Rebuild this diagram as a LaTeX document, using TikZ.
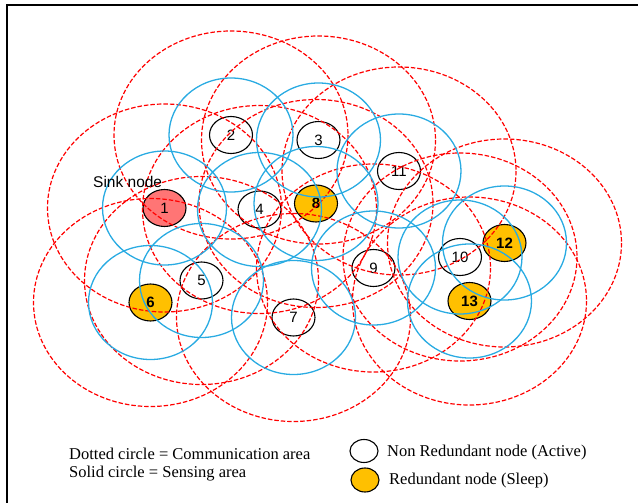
\documentclass[tikz,border=0pt]{standalone}
\usepackage{fontspec}
\setmainfont{Liberation Serif}
\newfontfamily\arialf{Liberation Sans}
\usetikzlibrary{shapes.geometric}
\definecolor{sensblue}{RGB}{41,171,226}
\definecolor{commred}{RGB}{255,0,0}
\definecolor{sinkred}{RGB}{255,117,117}
\definecolor{sleepy}{RGB}{255,192,0}
\begin{document}
\begin{tikzpicture}[x=1pt,y=-1pt,
  sensor/.style={ellipse, draw=black, line width=1.1pt, minimum width=43pt, minimum height=37pt, inner sep=0pt, font=\arialf\fontsize{15}{15}\selectfont},
  active/.style={sensor},
  sleep/.style={sensor, fill=sleepy, font=\arialf\bfseries\fontsize{15}{15}\selectfont},
  sink/.style={sensor, fill=sinkred},
  sens/.style={draw=sensblue, line width=1.3pt},
  comm/.style={draw=commred, line width=1.2pt, dash pattern=on 4.5pt off 2pt},
  legtext/.style={anchor=base west, inner sep=0pt, font=\fontsize{16.5}{18}\selectfont},
]
\useasboundingbox (0,0) rectangle (638,503);
\draw[line width=2pt] (638,5) -- (7,5) -- (7,503);
% sensor nodes
\node[sink]   (n1)  at (164.5,208) {1};
\node[active] (n2)  at (231,135) {2};
\node[active] (n3)  at (318.5,140) {3};
\node[active] (n4)  at (259.5,209.5) {4};
\node[active] (n5)  at (201.5,280.5) {5};
\node[sleep]  (n6)  at (150.5,302.5) {6};
\node[active] (n7)  at (293.5,317.5) {7};
\node[sleep]  (n8)  at (316,203.5) {8};
\node[active] (n9)  at (373.5,268) {9};
\node[active] (n10) at (460,257) {10};
\node[active] (n11) at (399,171) {11};
\node[sleep]  (n12) at (504.5,243) {12};
\node[sleep]  (n13) at (469.5,301) {13};
% communication and sensing areas
\foreach \n in {1,...,13}{
  \draw[comm] (n\n) ellipse [x radius=117, y radius=104];
}
\foreach \n in {1,...,13}{
  \draw[sens] (n\n) ellipse [x radius=62, y radius=57];
}
\node[anchor=base west, inner sep=0pt, font=\arialf\fontsize{15.5}{16}\selectfont] (sinklbl) at (93,187) {Sink node};
% legend
\node[legtext] (leg1) at (69,459) {Dotted circle = Communication area};
\node[legtext] (leg2) at (69,477) {Solid circle = Sensing area};
\node[active, minimum width=28pt, minimum height=23pt] (legA) at (364,451) {};
\node[sleep, minimum width=28pt, minimum height=24pt] (legS) at (365,480) {};
\node[legtext] (leg3) at (387,456) {Non Redundant node (Active)};
\node[legtext] (leg4) at (389,484) {Redundant node (Sleep)};
\end{tikzpicture}
\end{document}
